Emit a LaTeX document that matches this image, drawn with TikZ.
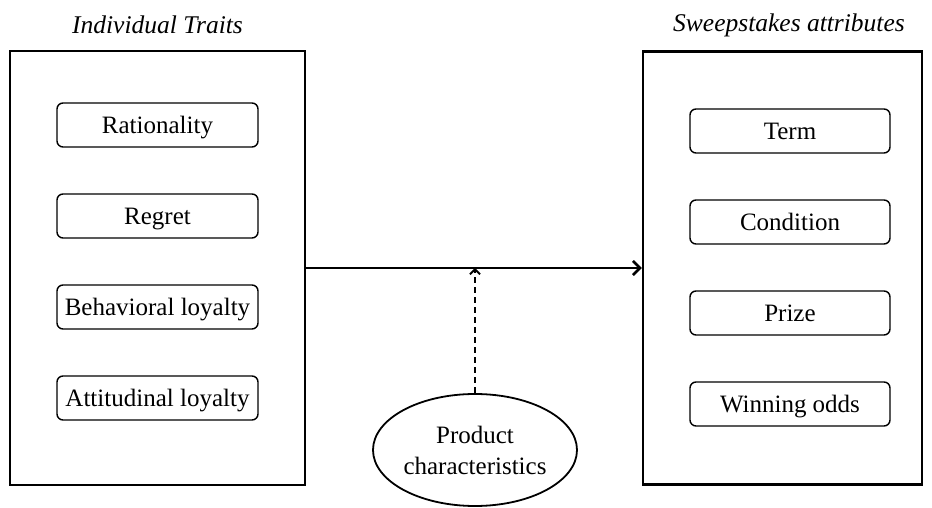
\documentclass[tikz,border=0pt]{standalone}
\usepackage{fontspec}
\setmainfont{Liberation Serif}
\usetikzlibrary{positioning,shapes.geometric,arrows.meta}

\begin{document}
\begin{tikzpicture}
[
  x=1pt, y=1pt,
  panel/.style={rectangle, draw, line width=2.4pt},
  trait/.style={rectangle, rounded corners=6pt, draw, line width=1.4pt,
                minimum width=201pt, minimum height=44pt, inner sep=0pt,
                text height=16.5pt, text depth=0pt},
  attr/.style={trait, minimum width=200pt},
  heading/.style={font=\fontsize{25.5}{30}\selectfont\itshape},
  node distance=91pt,
  on grid,
  font=\fontsize{25}{31}\selectfont
]
 \useasboundingbox (0,0) rectangle (932,508);

 \node[panel, minimum width=295pt, minimum height=434pt] (traits) at (157.5,240) {};
 \node[panel, minimum width=279pt, minimum height=433pt] (attrs) at (782.5,240) {};
 \node[heading] (tlabel) at (157.5,483) {Individual Traits};
 \node[heading] (alabel) at (789,483) {Sweepstakes attributes};

 \node[trait] (rat) at (157.5,383) {Rationality};
 \node[trait] (reg) [below=of rat] {Regret};
 \node[trait] (beh) [below=of reg] {Behavioral loyalty};
 \node[trait] (att) [below=of beh] {Attitudinal loyalty};

 \node[attr] (term) at (790,377) {Term};
 \node[attr] (cond) [below=of term] {Condition};
 \node[attr] (prize) [below=of cond] {Prize};
 \node[attr] (odds) [below=of prize] {Winning odds};

 \node[ellipse, draw, line width=1.8pt, minimum width=204pt, minimum height=112pt,
       align=center, inner sep=0pt] (prod) at (475,58) {Product\\characteristics};
 \coordinate (join) at (prod |- traits.east);

 \draw[-{Straight Barb[length=7pt,width=14pt]}, line width=2.6pt] (traits.east) -- (attrs.west);
 \draw[-{Straight Barb[length=5pt,width=10pt]}, line width=1.8pt, dash pattern=on 6pt off 4pt]
   (prod) -- (join);
\end{tikzpicture}
\end{document}
